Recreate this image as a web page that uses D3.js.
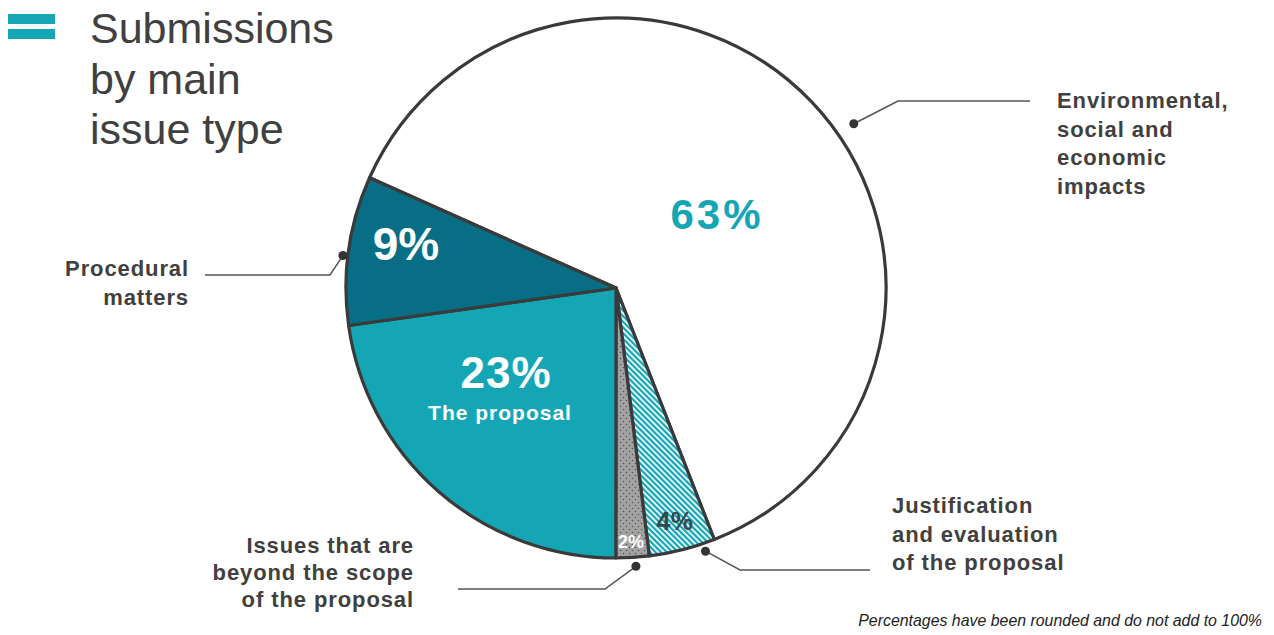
<!DOCTYPE html>
<html><head><meta charset="utf-8">
<script src="https://cdn.jsdelivr.net/npm/d3@7"></script>
<style>
html,body{margin:0;padding:0;background:#fff;}
svg{display:block;font-family:"Liberation Sans",Arial,sans-serif;}
</style></head>
<body><svg id="chart" width="1274" height="635"></svg>
<script>
// ---- data ----
const categories = ["Environmental, social and economic impacts","Justification and evaluation of the proposal","Issues that are beyond the scope of the proposal","The proposal","Procedural matters"];
const values = [63, 4, 2, 23, 9];
const valueLabels = ["63%","4%","2%","23%","9%"];
const labelLines = [
  ["Environmental,","social and","economic","impacts"],
  ["Justification","and evaluation","of the proposal"],
  ["Issues that are","beyond the scope","of the proposal"],
  [],
  ["Procedural","matters"]
];
const titleLines = ["Submissions","by main","issue type"];
const footnote = "Percentages have been rounded and do not add to 100%";

// ---- layout ----
const W = 1274, H = 635;
const cx = 616, cy = 288, R = 270;
const startDeg = -65.9;
const teal = "#15a6b6", darkTeal = "#076e86", ink = "#404040", edge = "#3a3a3a";

const svg = d3.select("#chart");
const defs = svg.append("defs");
const hatch = defs.append("pattern").attr("id","hatch").attr("patternUnits","userSpaceOnUse")
  .attr("width",4).attr("height",4).attr("patternTransform","rotate(-45)");
hatch.append("rect").attr("width",4).attr("height",4).attr("fill","#ffffff");
hatch.append("rect").attr("width",2.3).attr("height",4).attr("fill",teal);
const dots = defs.append("pattern").attr("id","dots").attr("patternUnits","userSpaceOnUse")
  .attr("width",6).attr("height",6);
dots.append("rect").attr("width",6).attr("height",6).attr("fill","#a3a3a3");
dots.append("circle").attr("cx",1.5).attr("cy",1.5).attr("r",0.8).attr("fill","#555");
dots.append("circle").attr("cx",4.5).attr("cy",4.5).attr("r",0.8).attr("fill","#555");

const fills = ["#ffffff","url(#hatch)","url(#dots)",teal,darkTeal];

const pie = d3.pie().sort(null).value(d=>d)
  .startAngle(startDeg*Math.PI/180).endAngle(startDeg*Math.PI/180 + 2*Math.PI);
const arcs = pie(values);
const arc = d3.arc().innerRadius(0).outerRadius(R);

const g = svg.append("g").attr("transform",`translate(${cx},${cy})`);
g.selectAll("path.slice").data(arcs).join("path").attr("class","slice")
  .attr("d",arc).attr("fill",(d,i)=>fills[i])
  .attr("stroke",edge).attr("stroke-width",3.2).attr("stroke-linejoin","round");

// value labels
const vLayout = [
  {x:717,y:229,size:42,ls:3,color:teal},
  {x:675,y:530,size:25,ls:0.5,color:"#34474f"},
  {x:631,y:548,size:18,ls:0,color:"#ffffff"},
  {x:506,y:388,size:44,ls:1,color:"#ffffff"},
  {x:406,y:260,size:46,ls:0,color:"#ffffff"}
];
valueLabels.forEach((t,i)=>{
  const L = vLayout[i];
  svg.append("text").attr("x",L.x).attr("y",L.y).attr("text-anchor","middle")
    .attr("font-size",L.size).attr("font-weight","bold").attr("letter-spacing",L.ls)
    .attr("fill",L.color).text(t);
});
svg.append("text").attr("x",500).attr("y",420).attr("text-anchor","middle")
  .attr("font-size",21).attr("font-weight","bold").attr("letter-spacing",1)
  .attr("fill","#fff").text(categories[3]);

// leader lines and category labels
const cLayout = [
  {t:0.54, r:289, elbow:[898,101], end:[1030,101], tx:1057, ty:108, anchor:"start", lh:28.7},
  {t:0.18, r:278, elbow:[740,570], end:[870,570], tx:892, ty:513, anchor:"start", lh:28.5},
  {t:0.42, r:279, elbow:[605,589], end:[458,589], tx:414, ty:553, anchor:"end", lh:27},
  null,
  {t:0.46, r:275, elbow:[330,275], end:[205,275], tx:189, ty:276, anchor:"end", lh:29}
];
arcs.forEach((a,i)=>{
  const L = cLayout[i]; if(!L) return;
  const ang = a.startAngle + L.t*(a.endAngle-a.startAngle);
  const px = cx + L.r*Math.sin(ang), py = cy - L.r*Math.cos(ang);
  svg.append("polyline").attr("points",`${px},${py} ${L.elbow[0]},${L.elbow[1]} ${L.end[0]},${L.end[1]}`)
    .attr("fill","none").attr("stroke","#555").attr("stroke-width",1.5);
  svg.append("circle").attr("cx",px).attr("cy",py).attr("r",4.5).attr("fill","#333");
  const txt = svg.append("text").attr("x",L.tx).attr("y",L.ty).attr("text-anchor",L.anchor)
    .attr("font-size",22).attr("font-weight","bold").attr("letter-spacing",0.9).attr("fill",ink);
  labelLines[i].forEach((ln,k)=>{
    txt.append("tspan").attr("x",L.tx).attr("y",L.ty + k*L.lh).text(ln);
  });
});

// title
svg.append("rect").attr("x",8).attr("y",14).attr("width",47).attr("height",10).attr("fill",teal);
svg.append("rect").attr("x",8).attr("y",29).attr("width",47).attr("height",10).attr("fill",teal);
const tb = [43,94,144];
titleLines.forEach((t,i)=>{
  svg.append("text").attr("x",90).attr("y",tb[i]).attr("font-size",43)
    .attr("fill",ink).text(t);
});

// footnote
svg.append("text").attr("x",1262).attr("y",626).attr("text-anchor","end")
  .attr("font-size",15.9).attr("font-style","italic").attr("fill","#222").text(footnote);
</script></body></html>
